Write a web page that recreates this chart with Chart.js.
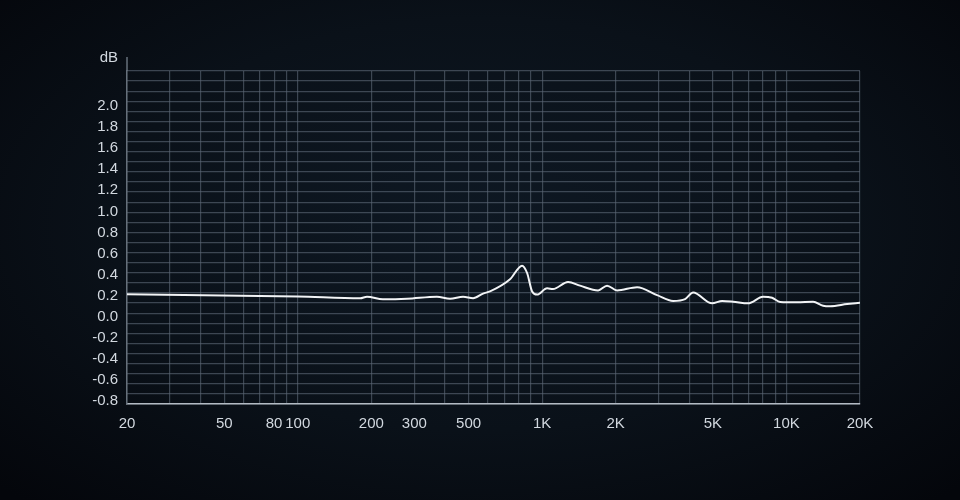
<!DOCTYPE html>
<html>
<head>
<meta charset="utf-8">
<script src="https://cdn.jsdelivr.net/npm/chart.js@4"></script>
<style>
  html, body {
    margin: 0;
    padding: 0;
    width: 960px;
    height: 500px;
    overflow: hidden;
    background: radial-gradient(ellipse 70% 75% at 50% 45%, #0e1823 0%, #0a1119 55%, #04060b 100%);
  }
  #wrap { position: relative; width: 960px; height: 500px; }
</style>
</head>
<body>
<div id="wrap"><canvas id="fr"></canvas></div>
<script>
// frequency response
const freqs = [20, 100, 180, 192, 223, 280, 371, 420, 475, 522, 573, 612, 739, 828, 868, 910, 954,
    1048, 1108, 1277, 1430, 1695, 1844, 2027, 2448, 2954, 3436, 3848, 4150, 4962, 5452, 6048, 6966,
    8024, 8736, 9420, 11056, 12853, 14126, 15090, 17708, 20000];
const dbValues = [0.213, 0.192, 0.175, 0.19, 0.165, 0.17, 0.19, 0.17, 0.19, 0.175, 0.22, 0.24, 0.355, 0.485, 0.415, 0.24, 0.21,
    0.27, 0.263, 0.33, 0.295, 0.25, 0.295, 0.25, 0.28, 0.205, 0.15, 0.168, 0.23, 0.127, 0.15, 0.143, 0.127,
    0.19, 0.18, 0.14, 0.137, 0.143, 0.105, 0.10, 0.12, 0.133];

// grid lines and labels
const gridFreqs = [20, 30, 40, 50, 60, 70, 80, 90, 100, 200, 300, 400, 500, 600, 700, 800, 900,
    1000, 2000, 3000, 4000, 5000, 6000, 7000, 8000, 9000, 10000, 20000];
const freqLabels = { 20: '20', 50: '50', 80: '80', 100: '100', 200: '200', 300: '300', 500: '500',
    1000: '1K', 2000: '2K', 5000: '5K', 10000: '10K', 20000: '20K' };
const dbTicks = [-0.8, -0.6, -0.4, -0.2, 0.0, 0.2, 0.4, 0.6, 0.8, 1.0, 1.2, 1.4, 1.6, 1.8, 2.0];
const gridRows = 33;

const labelColor = '#d2d8df';
const gridColor = 'rgba(92, 104, 118, 0.62)';
const labelFont = { family: '"Liberation Sans", Arial, sans-serif', size: 15 };

const chartElm = document.getElementById('fr');

const chartData = {
    datasets: [{
        label: 'dB',
        data: freqs.map((f, i) => ({ x: f, y: dbValues[i] })),
        borderColor: '#f2f4f6',
        borderWidth: 2,
        pointRadius: 0,
        cubicInterpolationMode: 'monotone',
        fill: false,
        yAxisID: 'y',
    }]
};

const chartConfig = {
    type: 'line',
    data: chartData,
    options: {
        responsive: true,
        maintainAspectRatio: false,
        animation: false,
        layout: {
            padding: { left: 0, right: 100, top: 71, bottom: 0 }
        },
        plugins: {
            legend: { display: false },
            tooltip: { enabled: false },
        },
        scales: {
            x: {
                type: 'logarithmic',
                min: 20,
                max: 20000,
                afterBuildTicks: (scale) => {
                    scale.ticks = gridFreqs.map(v => ({ value: v }));
                },
                afterFit: (scale) => { scale.height = 96; },
                ticks: {
                    autoSkip: false,
                    maxRotation: 0,
                    padding: 11,
                    color: labelColor,
                    font: labelFont,
                    callback: (v) => freqLabels[v] || '',
                },
                grid: { color: gridColor, lineWidth: 1.2, drawTicks: false },
                border: { color: '#b3bbc4', width: 1.5 },
            },
            y: {
                type: 'linear',
                min: -0.828,
                max: 2.332,
                afterBuildTicks: (scale) => {
                    scale.ticks = dbTicks.map(v => ({ value: v }));
                },
                afterFit: (scale) => { scale.width = 127; },
                ticks: {
                    padding: 9,
                    color: labelColor,
                    font: labelFont,
                    callback: (v) => v.toFixed(1),
                },
                grid: { display: false, drawTicks: false },
                border: { color: '#66707b', width: 1.5 },
            },
            yGrid: {
                type: 'linear',
                position: 'right',
                min: 0,
                max: gridRows,
                ticks: { display: false, stepSize: 1 },
                afterFit: (scale) => { scale.width = 0; },
                grid: { color: gridColor, lineWidth: 1.2, drawTicks: false },
                border: { display: false },
            },
        }
    },
    plugins: [{
        id: 'axisCap',
        afterDraw: (chart) => {
            const ctx = chart.ctx;
            const area = chart.chartArea;
            ctx.save();
            ctx.strokeStyle = '#66707b';
            ctx.lineWidth = 1.5;
            ctx.beginPath();
            ctx.moveTo(area.left, area.top);
            ctx.lineTo(area.left, area.top - 14);
            ctx.stroke();
            ctx.fillStyle = labelColor;
            ctx.font = '15px "Liberation Sans", Arial, sans-serif';
            ctx.textAlign = 'right';
            ctx.textBaseline = 'middle';
            ctx.fillText('dB', area.left - 9, area.top - 13);
            ctx.restore();
        }
    }]
};

const frChart = new Chart(chartElm, chartConfig);
</script>
</body>
</html>
